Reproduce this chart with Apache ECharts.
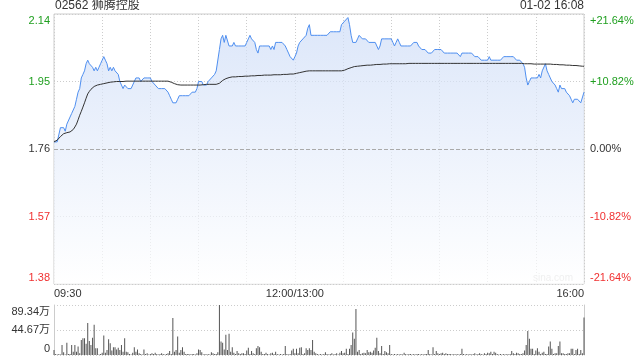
<!DOCTYPE html>
<html>
<head>
<meta charset="utf-8">
<script src="https://cdn.jsdelivr.net/npm/echarts@6/dist/echarts.min.js"></script>
<style>html,body{margin:0;padding:0;background:#fff}#c{width:640px;height:360px}</style>
</head>
<body>
<div id="c"></div>
<script>
const stockTitle = '02562 狮腾控股';
const stamp = '01-02 16:08';
const prevClose = 1.76;
const xTickLabels = ['09:30', '12:00/13:00', '16:00'];
const xTickIndex = [0, 150, 330];
const priceTicks = [1.38, 1.57, 1.76, 1.95, 2.14];
const pctTicks = [-21.64, -10.82, 0, 10.82, 21.64];
const volMax = 89.34;

const price = [
1.78,1.78,1.78,1.78,1.82,1.82,1.82,1.81,1.83,1.83,
1.85,1.86,1.86,1.88,1.90,1.92,1.93,1.96,1.97,1.98,
2.00,2.01,2.00,2.00,1.99,1.98,1.99,1.98,1.99,2.00,
2.01,2.02,2.01,2.00,1.98,1.99,1.98,1.99,1.98,1.98,
1.97,1.95,1.94,1.93,1.94,1.94,1.93,1.93,1.93,1.94,
1.95,1.96,1.96,1.96,1.95,1.95,1.96,1.96,1.96,1.96,
1.96,1.95,1.95,1.94,1.94,1.93,1.93,1.93,1.93,1.93,
1.93,1.92,1.91,1.90,1.89,1.89,1.89,1.90,1.91,1.91,
1.91,1.91,1.91,1.91,1.91,1.91,1.92,1.92,1.92,1.93,
1.95,1.95,1.95,1.94,1.94,1.94,1.95,1.95,1.96,1.96,
1.97,1.98,1.98,2.04,2.07,2.08,2.06,2.08,2.08,2.05,
2.05,2.05,2.06,2.05,2.05,2.05,2.05,2.05,2.05,2.05,
2.06,2.07,2.08,2.07,2.07,2.06,2.04,2.03,2.05,2.05,
2.05,2.05,2.05,2.05,2.05,2.04,2.05,2.04,2.06,2.06,
2.06,2.06,2.06,2.06,2.05,2.04,2.03,2.02,2.02,2.01,
2.02,2.03,2.05,2.06,2.06,2.07,2.07,2.08,2.10,2.11,
2.08,2.08,2.08,2.08,2.08,2.08,2.08,2.08,2.08,2.08,
2.08,2.08,2.09,2.09,2.09,2.09,2.09,2.09,2.09,2.11,
2.11,2.12,2.12,2.13,2.11,2.08,2.06,2.06,2.06,2.07,
2.08,2.08,2.07,2.07,2.07,2.07,2.06,2.06,2.06,2.06,
2.06,2.05,2.04,2.05,2.07,2.07,2.07,2.07,2.07,2.07,
2.07,2.06,2.05,2.06,2.07,2.06,2.05,2.05,2.05,2.05,
2.05,2.05,2.05,2.05,2.06,2.06,2.06,2.05,2.05,2.04,
2.04,2.04,2.04,2.03,2.03,2.03,2.03,2.04,2.04,2.04,
2.04,2.04,2.04,2.03,2.03,2.03,2.03,2.03,2.03,2.03,
2.03,2.03,2.03,2.02,2.03,2.03,2.03,2.03,2.03,2.03,
2.03,2.03,2.02,2.02,2.02,2.02,2.01,2.01,2.01,2.01,
2.01,2.02,2.01,2.01,2.01,2.01,2.01,2.01,2.01,2.01,
2.02,2.02,2.02,2.02,2.02,2.02,2.02,2.02,2.01,2.01,
2.01,2.01,2.00,1.99,1.96,1.94,1.95,1.96,1.96,1.96,
1.96,1.96,1.97,1.96,1.98,1.98,2.00,1.98,1.97,1.96,
1.95,1.95,1.94,1.93,1.92,1.94,1.93,1.93,1.93,1.92,
1.92,1.91,1.90,1.89,1.90,1.90,1.90,1.90,1.89,1.89,
1.92];

const avgPrice = [
1.780,1.782,1.785,1.790,1.795,1.800,1.803,1.805,1.806,1.807,
1.808,1.810,1.815,1.822,1.830,1.842,1.855,1.866,1.878,1.890,
1.903,1.915,1.922,1.928,1.932,1.936,1.938,1.940,1.941,1.942,
1.943,1.944,1.945,1.946,1.947,1.948,1.949,1.949,1.950,1.950,
1.950,1.950,1.950,1.950,1.950,1.951,1.951,1.951,1.951,1.951,
1.951,1.951,1.951,1.951,1.951,1.951,1.951,1.951,1.951,1.951,
1.951,1.951,1.951,1.951,1.951,1.951,1.951,1.951,1.951,1.951,
1.951,1.951,1.950,1.948,1.946,1.944,1.942,1.941,1.940,1.940,
1.940,1.940,1.940,1.940,1.940,1.940,1.940,1.940,1.940,1.940,
1.940,1.940,1.940,1.941,1.941,1.942,1.942,1.942,1.942,1.942,
1.942,1.942,1.942,1.945,1.950,1.953,1.955,1.958,1.960,1.961,
1.962,1.963,1.963,1.963,1.964,1.964,1.964,1.964,1.965,1.965,
1.965,1.965,1.966,1.966,1.966,1.966,1.967,1.967,1.967,1.967,
1.968,1.968,1.968,1.968,1.968,1.968,1.968,1.969,1.969,1.969,
1.969,1.969,1.970,1.970,1.970,1.970,1.971,1.971,1.971,1.971,
1.972,1.973,1.974,1.975,1.976,1.977,1.978,1.979,1.980,1.980,
1.980,1.980,1.980,1.980,1.980,1.980,1.980,1.980,1.980,1.980,
1.980,1.980,1.980,1.980,1.980,1.980,1.980,1.980,1.980,1.980,
1.980,1.982,1.984,1.986,1.987,1.989,1.990,1.992,1.993,1.993,
1.994,1.994,1.995,1.995,1.995,1.996,1.996,1.996,1.997,1.997,
1.997,1.998,1.998,1.998,1.998,1.999,1.999,1.999,2.000,2.000,
2.000,2.000,2.000,2.000,2.000,2.000,2.000,2.000,2.000,2.000,
2.000,2.001,2.001,2.001,2.001,2.001,2.001,2.001,2.001,2.001,
2.001,2.001,2.001,2.001,2.001,2.001,2.001,2.001,2.001,2.001,
2.001,2.001,2.001,2.001,2.001,2.001,2.001,2.001,2.001,2.001,
2.001,2.001,2.001,2.001,2.001,2.001,2.001,2.001,2.001,2.001,
2.001,2.001,2.001,2.001,2.001,2.001,2.001,2.001,2.001,2.001,
2.001,2.001,2.001,2.001,2.001,2.001,2.001,2.001,2.001,2.001,
2.001,2.001,2.001,2.001,2.001,2.001,2.001,2.001,2.001,2.001,
2.001,2.001,2.001,2.000,2.000,2.000,2.000,2.000,1.999,1.999,
1.999,1.999,1.999,1.999,1.999,1.999,1.999,1.999,1.999,1.999,
1.998,1.998,1.998,1.998,1.997,1.997,1.997,1.997,1.996,1.996,
1.996,1.996,1.995,1.995,1.995,1.995,1.994,1.994,1.994,1.993,
1.993];

const volume = [
9,2,1,2,1,18,5,1,22,2,
2,18,6,18,6,15,3,27,30,30,
20,57,25,18,31,54,12,12,1,2,
4,35,4,9,28,21,8,14,14,10,
13,9,18,6,30,6,5,2,1,4,
14,6,10,3,2,1,10,2,3,1,
2,3,2,4,2,1,2,3,2,1,
2,3,7,2,66,6,9,33,4,9,
14,6,2,2,2,1,2,2,1,3,
10,9,5,1,2,1,2,1,5,3,
2,2,5,89.34,24,22,10,36,9,38,
6,14,4,2,7,3,2,3,3,2,
8,13,2,7,3,2,12,16,14,6,
2,2,4,2,1,3,4,2,6,2,
1,2,1,2,16,2,1,2,8,11,
3,11,3,13,14,2,3,12,9,12,
9,27,6,3,2,1,2,1,2,5,
2,1,2,3,1,2,3,1,4,7,
3,4,11,2,11,18,40,29,82,6,
9,2,3,4,3,9,5,6,4,8,
13,31,7,3,16,2,7,5,3,18,
2,1,2,1,2,1,2,1,4,2,
1,2,2,1,2,1,2,2,1,2,
1,2,2,9,2,1,14,2,7,3,
2,3,4,2,3,2,2,2,1,2,
1,2,1,2,11,2,1,2,1,2,
1,2,3,1,2,3,2,1,3,2,
4,3,6,2,6,4,2,1,2,1,
2,1,2,1,2,7,3,2,4,3,
2,2,3,8,18,43,29,11,11,2,
8,12,6,2,4,6,2,2,15,24,
11,2,3,3,16,24,3,3,2,2,
3,3,11,11,2,9,11,2,9,3,
67];

// minute categories 09:30..12:00/13:00..16:00
function pad(n){return (n<10?'0':'')+n;}
const minutes = [];
for (let i = 0; i < price.length; i++) {
  const ti = xTickIndex.indexOf(i);
  if (ti >= 0) { minutes.push(xTickLabels[ti]); continue; }
  let t = i < 150 ? 9*60+30+i : 13*60+(i-150);
  minutes.push(pad(Math.floor(t/60)) + ':' + pad(t%60));
}

const FONT = "'Liberation Sans', Arial, 'Noto Sans CJK SC', sans-serif";
const GREEN = '#1f9f1f', RED = '#f03030', DARK = '#333';
const GRID_C = '#cccccc';

function priceLabel(v) {
  const s = v.toFixed(2);
  const d = Math.round(v*100) - Math.round(prevClose*100);
  const c = d > 0 ? 'g' : (d < 0 ? 'r' : 'k');
  const pos = Math.abs(v - priceTicks[priceTicks.length-1]) < 1e-6 ? 'T' : (Math.abs(v - priceTicks[0]) < 1e-6 ? 'B' : 'M');
  return '{' + c + pos + '|' + s + '}';
}
function pctLabel(v) {
  const r = Math.round(v*100)/100;
  const s = (r > 0 ? '+' : '') + r.toFixed(2) + '%';
  const c = r > 0 ? 'g' : (r < 0 ? 'r' : 'k');
  const pos = Math.abs(r - pctTicks[pctTicks.length-1]) < 1e-6 ? 'T' : (Math.abs(r - pctTicks[0]) < 1e-6 ? 'B' : 'M');
  return '{' + c + pos + '|' + s + '}';
}
function volLabel(v) {
  const r = Math.round(v*100)/100;
  if (r === 0) return '{kB|0}';
  const pos = Math.abs(r - volMax) < 1e-6 ? 'T' : 'M';
  return '{k' + pos + '|' + r.toFixed(2) + '万}';
}
function richSet() {
  const o = {};
  const cols = {g: GREEN, r: RED, k: DARK};
  const pads = {T: [13,0,0,0], M: [0,0,0,0], B: [0,0,13,0]};
  for (const c in cols) for (const p in pads) {
    o[c+p] = {color: cols[c], fontSize: 11, fontFamily: FONT, padding: pads[p]};
  }
  return o;
}

const chart = echarts.init(document.getElementById('c'), null, {renderer: 'canvas'});
chart.setOption({
  animation: false,
  backgroundColor: '#fff',
  textStyle: {fontFamily: FONT},
  grid: [
    {left: 54, right: 56, top: 14, height: 270, show: true, borderColor: GRID_C, borderWidth: 1, backgroundColor: 'transparent'},
    {left: 54, right: 56, top: 305, height: 50}
  ],
  xAxis: [
    {type: 'category', gridIndex: 0, data: minutes, boundaryGap: false,
     axisLine: {show: false}, axisTick: {show: false},
     axisLabel: {interval: function(i){return xTickIndex.indexOf(i) >= 0;}, color: DARK, fontSize: 11, fontFamily: FONT, margin: 4,
                 alignMinLabel: 'left', alignMaxLabel: 'right', showMinLabel: true, showMaxLabel: true},
     splitLine: {show: true, interval: function(i){return i % 30 === 0;}, lineStyle: {color: GRID_C, type: [1,2], width: 1}}},
    {type: 'category', gridIndex: 1, data: minutes, boundaryGap: false,
     axisLine: {show: false}, axisTick: {show: false}, axisLabel: {show: false}, splitLine: {show: false}}
  ],
  yAxis: [
    {type: 'value', gridIndex: 0, min: priceTicks[0], max: priceTicks[priceTicks.length-1], interval: 0.19,
     axisLine: {show: false}, axisTick: {show: false},
     axisLabel: {formatter: priceLabel, rich: richSet(), margin: 4},
     splitLine: {show: true, lineStyle: {color: GRID_C, type: [1,2], width: 1}}},
    {type: 'value', gridIndex: 0, position: 'right', min: pctTicks[0], max: pctTicks[pctTicks.length-1], interval: 10.82,
     axisLine: {show: false}, axisTick: {show: false},
     axisLabel: {formatter: pctLabel, rich: richSet(), margin: 6},
     splitLine: {show: false}},
    {type: 'value', gridIndex: 1, min: 0, max: volMax, interval: volMax/2,
     axisLine: {show: true, lineStyle: {color: GRID_C}}, axisTick: {show: false},
     axisLabel: {formatter: volLabel, rich: richSet(), margin: 4},
     splitLine: {show: true, lineStyle: {color: GRID_C, type: [1,2], width: 1}}},
    {type: 'value', gridIndex: 1, position: 'right', min: 0, max: volMax,
     axisLine: {show: true, lineStyle: {color: GRID_C}}, axisTick: {show: false},
     axisLabel: {show: false}, splitLine: {show: false}}
  ],
  series: [
    {type: 'line', name: 'price', xAxisIndex: 0, yAxisIndex: 0, data: price,
     showSymbol: false, symbol: 'none', silent: true,
     lineStyle: {color: '#4f8ff0', width: 1},
     areaStyle: {origin: 'start', color: new echarts.graphic.LinearGradient(0,0,0,1,[
       {offset: 0, color: '#cddcf7'}, {offset: 1, color: '#ffffff'}])},
     markLine: {silent: true, symbol: 'none', label: {show: false},
       lineStyle: {color: '#aaaaaa', type: [4,2], width: 1},
       data: [{yAxis: prevClose}]}},
    {type: 'line', name: 'avg', xAxisIndex: 0, yAxisIndex: 0, data: avgPrice,
     showSymbol: false, symbol: 'none', silent: true,
     lineStyle: {color: '#333333', width: 1}},
    {type: 'bar', name: 'volume', xAxisIndex: 1, yAxisIndex: 2, data: volume,
     barWidth: 1, silent: true, itemStyle: {color: '#555555'}}
  ],
  graphic: [
    {type: 'text', left: 55, top: 0, style: {text: stockTitle, font: '12px ' + FONT, fill: DARK}},
    {type: 'text', right: 56, top: 0, style: {text: stamp, font: '12px ' + FONT, fill: DARK}},
    {type: 'text', right: 67, top: 273, style: {text: 'sina.com', font: '10px ' + FONT, fill: '#cccccc'}}
  ]
});
</script>
</body>
</html>
